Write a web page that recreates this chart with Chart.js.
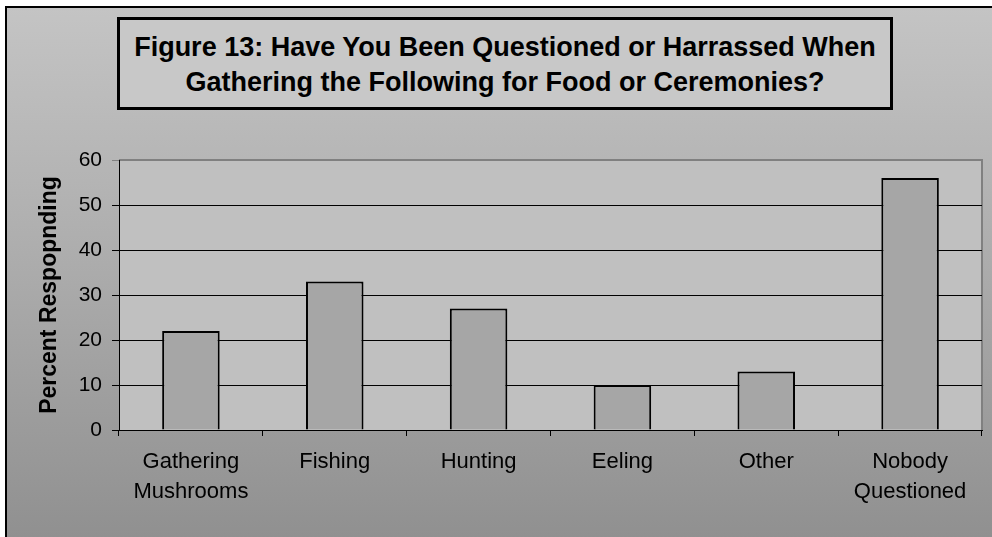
<!DOCTYPE html>
<html>
<head>
<meta charset="utf-8">
<script src="https://cdn.jsdelivr.net/npm/chart.js@4"></script>
<style>
  html, body { margin: 0; padding: 0; background: #fff; }
  #wrap { position: relative; width: 992px; height: 537px; overflow: hidden; }
  #frame {
    position: absolute; left: 5px; top: 6px; width: 1000px; height: 540px;
    border-left: 2px solid #000; border-top: 2px solid #000;
    background: linear-gradient(to bottom, #c4c4c4 0%, #b0b0b0 40%, #8f8f8f 100%);
  }
  #title {
    position: absolute; left: 117px; top: 17px; width: 770px; height: 77px;
    border: 3px solid #000; background: #c8c8c8;
    font-family: "Liberation Sans", Arial, sans-serif; font-weight: bold;
    font-size: 27px; line-height: 35px;
    text-align: center; padding-top: 10px;
  }
  canvas { position: absolute; left: 0; top: 0; }
</style>
</head>
<body>
<div id="wrap">
  <div id="frame"></div>
  <div id="title">Figure 13: Have You Been Questioned or Harrassed When<br>Gathering the Following for Food or Ceremonies?</div>
  <canvas id="myChart" width="992" height="537"></canvas>
</div>
<script>
// categories (multi-line labels) and percent responding
const categories = [
  ['Gathering', 'Mushrooms'],
  'Fishing',
  'Hunting',
  'Eeling',
  'Other',
  ['Nobody', 'Questioned']
];
const percents = [22, 33, 27, 10, 13, 56];
const yTicks = [0, 10, 20, 30, 40, 50, 60];

// plot area fill and the grey top/right border
const plotArea = {
  id: 'plotArea',
  beforeDraw(chart) {
    const ctx = chart.ctx;
    const a = chart.chartArea;
    ctx.save();
    ctx.fillStyle = '#c0c0c0';
    ctx.fillRect(a.left, a.top, a.right - a.left, a.bottom - a.top);
    ctx.strokeStyle = '#808080';
    ctx.lineWidth = 2;
    ctx.beginPath();
    ctx.moveTo(a.left, a.top);
    ctx.lineTo(a.right, a.top);
    ctx.lineTo(a.right, a.bottom);
    ctx.stroke();
    ctx.restore();
  }
};

Chart.defaults.font.family = '"Liberation Sans", Arial, sans-serif';
Chart.defaults.color = '#000';

let ctx = document.getElementById('myChart').getContext('2d');
new Chart(ctx, {
  type: 'bar',
  data: {
    labels: categories,
    datasets: [{
      label: 'Percent Respopnding',
      data: percents,
      backgroundColor: '#a6a6a6',
      borderColor: '#000',
      borderWidth: 2,
      barPercentage: 0.4,
      categoryPercentage: 1
    }]
  },
  options: {
    responsive: false,
    animation: false,
    layout: { padding: { left: 7, top: 160, right: 10, bottom: 20 } },
    plugins: {
      legend: { display: false },
      tooltip: { enabled: false }
    },
    scales: {
      x: {
        grid: { drawOnChartArea: false, color: '#000', tickLength: 6 },
        border: { color: '#000', width: 1 },
        ticks: { font: { size: 22, lineHeight: '30px' }, padding: 11, maxRotation: 0, autoSkip: false },
        afterFit(scale) { scale.height = 87; }
      },
      y: {
        min: 0,
        max: 60,
        afterBuildTicks(scale) { scale.ticks = yTicks.map(v => ({ value: v })); },
        grid: {
          color: c => (c.tick && c.tick.value === 60) ? '#808080' : '#000',
          tickLength: 7
        },
        border: { color: '#000', width: 1 },
        ticks: { font: { size: 21 }, padding: 10 },
        title: {
          display: true,
          text: 'Percent Respopnding',
          font: { size: 23, weight: 'bold' },
          padding: { top: 29, bottom: 0 }
        },
        afterFit(scale) { scale.width = 112; }
      }
    }
  },
  plugins: [plotArea]
});
</script>
</body>
</html>
